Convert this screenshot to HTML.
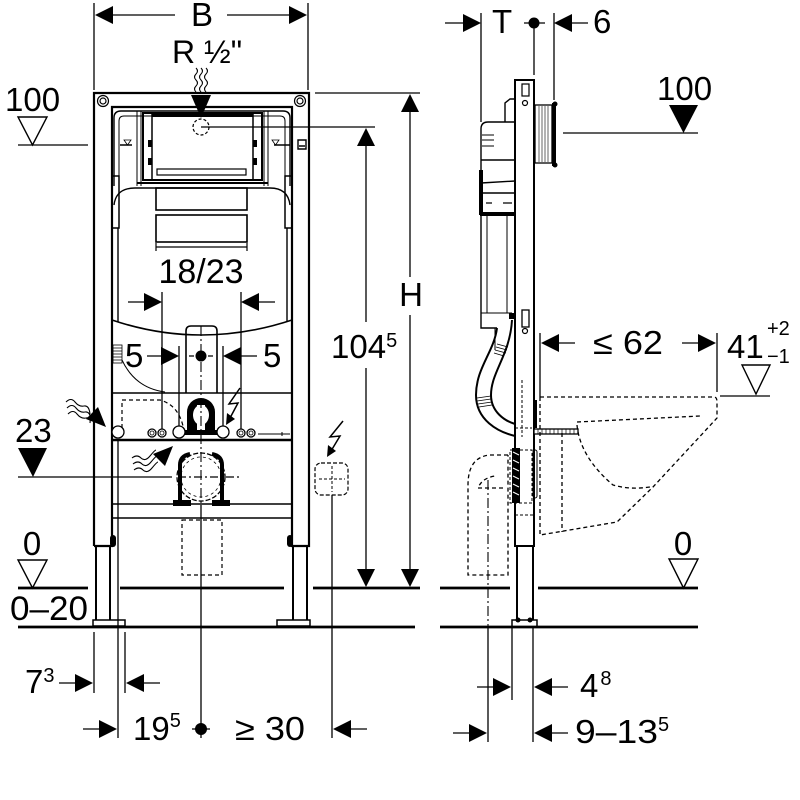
<!DOCTYPE html>
<html><head><meta charset="utf-8"><style>
html,body{margin:0;padding:0;background:#fff;}
svg{display:block;}
text{font-family:"Liberation Sans",Arial,sans-serif;fill:#000;}
</style></head><body>
<svg width="800" height="800" viewBox="0 0 800 800" xmlns="http://www.w3.org/2000/svg">
<rect width="800" height="800" fill="#fff"/>

<!-- ============ FRONT VIEW ============ -->
<g fill="none" stroke="#000" stroke-width="1.3">
  <path d="M94,3V90M308,3V90M113,15H175M227,15H289"/>
  <path d="M196,68q3,3 0,6t0,6t0,6t0,6M201,68q3,3 0,6t0,6t0,6t0,6M206,68q3,3 0,6t0,6t0,6t0,6" stroke-width="1.1"/>
  <path d="M315,93H420M201,127H375"/>
  <path d="M18,145H88"/>
</g>
<polygon points="95,15 113,6 113,24"/>
<polygon points="307,15 289,6 289,24"/>
<polygon points="191,95 211,95 201,118"/>

<!-- frame -->
<g fill="none" stroke="#000" stroke-width="2.2">
  <path d="M94,546V93H309V546H292V107H112V546H94"/>
  <path d="M96,546V621M110,546V621M293,546V621M307,546V621" stroke-width="2"/>
  <path d="M112,393H292" stroke-width="1.6"/>
  <path d="M112,504H292M112,518H292" stroke-width="1.6"/>
</g>
<rect x="93" y="620" width="32" height="6" fill="#fff" stroke="#000" stroke-width="1.5"/>
<rect x="277" y="620" width="33" height="6" fill="#fff" stroke="#000" stroke-width="1.5"/>
<g fill="none" stroke="#000" stroke-width="1.2">
  <circle cx="103" cy="101" r="5.5"/><circle cx="103" cy="101" r="3"/>
  <circle cx="300" cy="101" r="5.5"/><circle cx="300" cy="101" r="3"/>
</g>
<rect x="110" y="535" width="6" height="12" rx="3" fill="#000"/>
<rect x="287" y="535" width="6" height="12" rx="3" fill="#000"/>

<!-- cistern -->
<g fill="none" stroke="#000" stroke-width="1.4">
  <path d="M114,186V118Q114,111 121,111H283Q290,111 290,118V186"/>
  <path d="M119,186V121Q119,116 124,116H280Q285,116 285,121V186" stroke-width="1"/>
  <rect x="143" y="113" width="119" height="67" stroke-width="2"/>
  <path d="M152,113V180M253,113V180" stroke-width="1.5"/>
  <rect x="157" y="169" width="89" height="6" stroke-width="1.2"/>
  <path d="M137,111V186M141,111V186M264,111V186M268,111V186" stroke-width="1"/>
  <path d="M137,183H268" stroke-width="2"/>
  <path d="M114,205Q116,188 135,188H270Q288,188 290,205"/>
  <rect x="112" y="176" width="7" height="52" stroke-width="1.5"/>
  <rect x="285" y="176" width="7" height="52" stroke-width="1.5"/>
  <path d="M118,228V322M287,228V322"/>
  <rect x="156" y="188" width="91" height="22" stroke-width="1.6"/>
  <rect x="156" y="215" width="91" height="27" stroke-width="1.6"/>
  <path d="M156,247H247M156,243V251M247,243V251" stroke-width="1.2"/>
  <path d="M112,320Q201,350 292,320" stroke-width="1.6"/>
  <path d="M186,393V331Q186,326 191,326H212Q217,326 217,331V393" stroke-width="1.6"/>
  <path d="M122,360Q135,388 165,392" stroke-width="1"/>
  <path d="M120,145H132M274,145H290M298,140h8v9h-8zM299,146h6"/>
</g>
<rect x="152" y="113" width="101" height="4" fill="#000"/>
<rect x="148" y="140" width="4" height="7" fill="#000"/><rect x="253" y="140" width="4" height="7" fill="#000"/>
<rect x="148" y="158" width="4" height="7" fill="#000"/><rect x="253" y="158" width="4" height="7" fill="#000"/>
<polygon points="124,140 131,140 127.5,145" fill="none" stroke="#000" stroke-width="0.8"/>
<polygon points="272,140 279,140 275.5,145" fill="none" stroke="#000" stroke-width="0.8"/>
<g stroke="#000" stroke-width="0.8" fill="none">
  <rect x="113" y="345" width="9" height="18"/>
  <path d="M113,348h9M113,351h9M113,354h9M113,357h9M113,360h9"/>
</g>
<circle cx="201" cy="127" r="8" fill="none" stroke="#000" stroke-width="1.2" stroke-dasharray="3,2"/>

<!-- 18/23 and 5 dims -->
<g stroke="#000" stroke-width="1.3" fill="none">
  <path d="M162,292V430M241,292V430M128,302H144M259,302H275"/>
  <path d="M179,346V428M223,346V428M147,356H161M241,356H257M189,356H194M208,356H213"/>
</g>
<polygon points="162,302 144,293 144,311"/>
<polygon points="241,302 259,293 259,311"/>
<polygon points="179,356 161,347 161,365"/>
<polygon points="223,356 241,347 241,365"/>
<circle cx="201" cy="356" r="5.5"/>

<!-- flush bend horseshoe -->
<path d="M187,434V412A14,14 0 0 1 215,412V434Z" fill="#000"/>
<ellipse cx="201" cy="415" rx="8" ry="10" fill="#fff"/>
<rect x="197" y="405" width="8" height="29" fill="#fff"/>
<path d="M191,412A10,10 0 0 1 211,412" fill="none" stroke="#000" stroke-width="1"/>
<rect x="185" y="430" width="33" height="5" fill="#000"/>
<g fill="#fff" stroke="#000" stroke-width="1.3">
  <circle cx="152" cy="433" r="4"/><circle cx="162" cy="433" r="4"/>
  <circle cx="241" cy="433" r="4"/><circle cx="251" cy="433" r="4"/>
  <circle cx="179" cy="432" r="6"/><circle cx="223" cy="432" r="6"/>
  <circle cx="118" cy="432" r="6"/>
</g>
<g fill="none" stroke="#000" stroke-width="0.8">
  <circle cx="152" cy="433" r="2"/><circle cx="162" cy="433" r="2"/>
  <circle cx="241" cy="433" r="2"/><circle cx="251" cy="433" r="2"/>
</g>
<path d="M112,440H292" stroke="#000" stroke-width="2.6"/>
<path d="M122,428V400H160Q178,405 183,426" fill="none" stroke="#000" stroke-width="1.2" stroke-dasharray="4,3"/>
<path d="M258,434H290M282,432v4" fill="none" stroke="#000" stroke-width="1"/>
<path d="M240,388L229,404L238,403L230,418" fill="none" stroke="#000" stroke-width="1.5"/>
<polygon points="226,425 227,413 235,419"/>

<!-- left wavy arrow -->
<g fill="none" stroke="#000" stroke-width="1.1">
  <path d="M66,402q5,-5 9,0t9,4t6,8"/>
  <path d="M67,408q5,-5 9,0t9,4t6,8"/>
  <path d="M68,414q5,-5 9,0t9,4t4,5"/>
</g>
<polygon points="106,427 86,419 98,407"/>
<g fill="none" stroke="#000" stroke-width="1.1">
  <path d="M132,458q5,-4 9,0t9,-2t6,-6"/>
  <path d="M133,464q5,-4 9,0t9,-2t6,-6"/>
  <path d="M134,470q5,-4 9,0t9,-2t6,-6"/>
</g>
<polygon points="173,446 165,466 153,454"/>

<!-- drain pipe -->
<circle cx="201" cy="477" r="24" fill="none" stroke="#000" stroke-width="1.3" stroke-dasharray="5,2"/>
<circle cx="201" cy="477" r="20" fill="none" stroke="#000" stroke-width="0.8" stroke-dasharray="3,3"/>
<path d="M180,500V465Q180,456 190,454M222,500V465Q222,456 212,454" fill="none" stroke="#000" stroke-width="4"/>
<rect x="173" y="500" width="18" height="6" fill="#000"/>
<rect x="212" y="500" width="18" height="6" fill="#000"/>
<path d="M18,477H172" stroke="#000" stroke-width="1.3"/>
<path d="M178,477H240" stroke="#000" stroke-width="1.3" stroke-dasharray="8,3,2,3"/>
<rect x="182" y="520" width="40" height="55" fill="none" stroke="#000" stroke-width="1.2" stroke-dasharray="4,3"/>
<path d="M201,326V505" stroke="#000" stroke-width="1.1" stroke-dasharray="10,3,2,3"/>
<path d="M201,505V738M118,440V738M332,495V738M94,632V693M125,632V693" stroke="#000" stroke-width="1.3"/>

<!-- electrical box right -->
<rect x="315" y="463" width="33" height="32" rx="6" fill="none" stroke="#000" stroke-width="1.2" stroke-dasharray="4,2"/>
<path d="M319,479H345M332,466V492" stroke="#000" stroke-width="1" stroke-dasharray="3,2"/>
<path d="M343,421L330,437L340,436L331,451" fill="none" stroke="#000" stroke-width="1.5"/>
<polygon points="327,457 328,445 336,451"/>

<!-- H and 104 dims -->
<g stroke="#000" stroke-width="1.3">
  <path d="M366,146V322M366,368V569M410,112V277M410,315V569"/>
</g>
<polygon points="366,128 357,146 375,146"/>
<polygon points="366,587 357,569 375,569"/>
<polygon points="410,94 401,112 419,112"/>
<polygon points="410,587 401,569 419,569"/>

<g stroke="#000" stroke-width="2.8">
  <path d="M18,588H88M120,588H284M313,588H420"/>
  <path d="M18,627H415"/>
</g>

<polygon points="18,117 47,117 32.5,145" fill="#fff" stroke="#000" stroke-width="1.4"/>
<polygon points="18,448 47,448 33,477"/>
<polygon points="18,560 47,560 32.5,588" fill="#fff" stroke="#000" stroke-width="1.4"/>

<g stroke="#000" stroke-width="1.3">
  <path d="M59,683H75M144,683H160M83,729H99M351,729H367M192,729H210"/>
</g>
<polygon points="93,683 75,674 75,692"/>
<polygon points="126,683 144,674 144,692"/>
<polygon points="117,729 99,720 99,738"/>
<polygon points="333,729 351,720 351,738"/>
<circle cx="201" cy="729" r="6"/>

<!-- ============ SIDE VIEW ============ -->
<g stroke="#000" stroke-width="1.3" fill="none">
  <path d="M481,13V122M534,23V75M554,13V100M445,23H463M572,23H588M524,23H545"/>
  <path d="M563,133H698"/>
  <path d="M540,333V397M717,333V392M720,396H770"/>
  <path d="M559,343H575M682,343H698"/>
  <path d="M512,627V700M533,627V742M488,627V742"/>
  <path d="M477,687H493M552,687H568M453,733H469M552,733H568"/>
</g>
<polygon points="481,23 463,14 463,32"/>
<polygon points="554,23 572,14 572,32"/>
<circle cx="534" cy="23" r="5.5"/>
<polygon points="669,105 698,105 683.5,133"/>
<polygon points="541,343 559,334 559,352"/>
<polygon points="716,343 698,334 698,352"/>
<polygon points="742,365 770,365 756,394" fill="#fff" stroke="#000" stroke-width="1.4"/>
<polygon points="511,687 493,678 493,696"/>
<polygon points="534,687 552,678 552,696"/>
<polygon points="487,733 469,724 469,742"/>
<polygon points="534,733 552,724 552,742"/>

<!-- post -->
<g fill="none" stroke="#000" stroke-width="2">
  <path d="M515,546V80H534V546Z"/>
  <path d="M517,546V621M533,546V621"/>
  <rect x="522" y="84" width="7" height="12" stroke-width="1.2"/>
</g>
<circle cx="525" cy="103" r="2.5" fill="none" stroke="#000" stroke-width="1.2"/>
<rect x="512" y="620" width="25" height="7" fill="#fff" stroke="#000" stroke-width="1.5"/>
<circle cx="518" cy="620" r="2.5"/><circle cx="530" cy="620" r="2.5"/>
<g fill="none" stroke="#000" stroke-width="1.3">
  <rect x="535" y="105" width="17" height="58"/>
  <path d="M539,106V162M542,106V162M545,106V162M548,106V162" stroke-width="0.6"/>
</g>
<rect x="552" y="103" width="4" height="63" fill="#000"/>
<circle cx="555" cy="104" r="2.5"/><circle cx="555" cy="165" r="2.5"/>

<!-- cistern side -->
<g fill="none" stroke="#000" stroke-width="1.4">
  <path d="M505,122V103L510,99H515"/>
  <path d="M515,122H488Q481,122 481,129V328H497"/>
  <path d="M482,135h12M482,140h12M482,146h12" stroke-width="1"/>
  <path d="M481,160H515M481,183L515,181M481,193H515"/>
  <path d="M486,203h6M503,203h9" stroke-width="1.2"/>
  <path d="M487,214V313M507,214V313M481,313H512" stroke-width="1"/>
  <path d="M495,328V350" stroke-width="1"/>
</g>
<rect x="479" y="170" width="4" height="45" fill="#000"/>
<rect x="480" y="212" width="35" height="4" fill="#000"/>
<rect x="522" y="310" width="7" height="17" fill="none" stroke="#000" stroke-width="1.3"/>
<circle cx="525" cy="331" r="2.5" fill="none" stroke="#000" stroke-width="1.2"/>
<!-- flush pipe bend -->
<g fill="none" stroke="#000" stroke-width="2">
  <path d="M497,328C494,352 476,368 476,395C476,420 498,432 515,436"/>
  <path d="M512,320C510,355 491,372 491,395C491,412 505,421 515,424"/>
</g>
<g stroke="#000" stroke-width="0.8">
  <path d="M497,344l11,3M496,347l11,3M495,350l11,3M494,353l10,3"/>
  <path d="M477,398l14,-2M477,401l14,-2M478,404l14,-2M479,407l13,-2"/>
</g>
<rect x="509" y="313" width="6" height="6" fill="#000"/>
<rect x="534" y="400" width="3" height="28" fill="#000"/>
<path d="M522,380V437M515,428H532" fill="none" stroke="#000" stroke-width="1" stroke-dasharray="3,2"/>
<rect x="534" y="429" width="44" height="5" fill="#fff" stroke="#000" stroke-width="1.3"/>
<path d="M538,429v5M542,429v5M546,429v5M550,429v5M554,429v5M558,429v5M562,429v5M566,429v5M570,429v5M574,429v5" stroke="#000" stroke-width="0.7"/>
<rect x="510" y="450" width="22" height="53" fill="none" stroke="#000" stroke-width="1" stroke-dasharray="3,2"/>
<rect x="512" y="448" width="8" height="55" fill="#000"/>
<path d="M513,452l6,3M513,460l6,3M513,468l6,3M513,476l6,3M513,484l6,3M513,492l6,3" stroke="#fff" stroke-width="1"/>
<rect x="533" y="450" width="4" height="48" rx="2" fill="none" stroke="#000" stroke-width="1"/>
<path d="M515,515H533" stroke="#000" stroke-width="1" stroke-dasharray="3,2"/>

<g fill="none" stroke="#000" stroke-width="1.3" stroke-dasharray="4,3">
  <path d="M540,397H714Q717,397 717,402V418L653,487L617,522L540,535"/>
  <path d="M540,397V535M562,433V532"/>
  <path d="M577,422L700,416"/>
  <path d="M577,425Q580,457 613,485Q630,490 650,487"/>
  <path d="M508,455H490Q468,457 468,485V575H508V455"/>
  <path d="M503,488H478Q482,478 495,476"/>
</g>
<path d="M488,480V627" stroke="#000" stroke-width="1.1" stroke-dasharray="10,3,2,3"/>

<g stroke="#000" stroke-width="2.8">
  <path d="M440,588H510M538,588H698"/>
  <path d="M440,627H698"/>
</g>
<polygon points="669,559 698,559 683.5,588" fill="#fff" stroke="#000" stroke-width="1.4"/>

<!-- ============ TEXT ============ -->
<g font-size="33">
  <text x="202" y="26" text-anchor="middle">B</text>
  <text x="172" y="63" font-size="32">R ½"</text>
  <text x="5" y="111">100</text>
  <text x="201" y="283" text-anchor="middle" font-size="34">18/23</text>
  <text x="125" y="367">5</text>
  <text x="263" y="367">5</text>
  <text x="15" y="442">23</text>
  <text x="32" y="555" text-anchor="middle">0</text>
  <text x="10" y="620" font-size="34" textLength="78" lengthAdjust="spacingAndGlyphs">0–20</text>
  <text x="411" y="306" text-anchor="middle">H</text>
  <text x="331" y="358">104<tspan font-size="20" dy="-11">5</tspan></text>
  <text x="25" y="693">7<tspan font-size="20" dy="-11">3</tspan></text>
  <text x="133" y="740">19<tspan font-size="20" dy="-13">5</tspan></text>
  <text x="235" y="740" textLength="70" lengthAdjust="spacingAndGlyphs">≥ 30</text>

  <text x="492" y="33">T</text>
  <text x="593" y="33">6</text>
  <text x="657" y="100">100</text>
  <text x="593" y="354" textLength="70" lengthAdjust="spacingAndGlyphs">≤ 62</text>
  <text x="727" y="358">41</text>
  <text x="767" y="335" font-size="20">+2</text>
  <text x="767" y="363" font-size="20">−1</text>
  <text x="683" y="555" text-anchor="middle">0</text>
  <text x="580" y="697">4<tspan font-size="20" dy="-12" dx="2">8</tspan></text>
  <text x="575" y="743"><tspan textLength="83" lengthAdjust="spacingAndGlyphs">9–13</tspan><tspan font-size="20" dy="-12">5</tspan></text>
</g>
</svg>
</body></html>
